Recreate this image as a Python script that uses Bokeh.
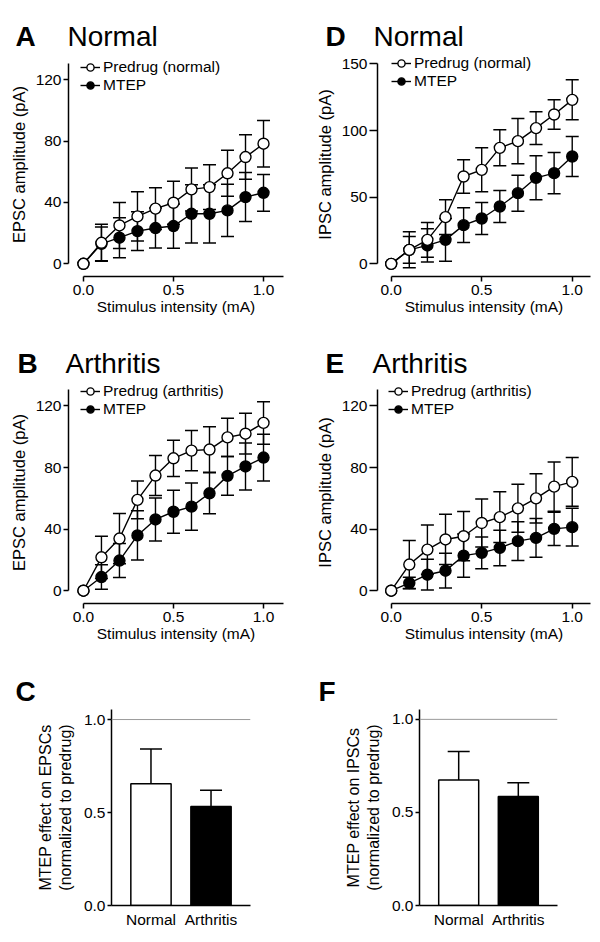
from bokeh.plotting import figure
from bokeh.models import (Range1d, Label, Legend, LegendItem, Span, FixedTicker,
                          PrintfTickFormatter, FactorRange)
from bokeh.layouts import column, row
from bokeh.embed import file_html
from bokeh.resources import INLINE

FONT = "Liberation Sans"

# ---------------- data ----------------
stimulus = [0.0, 0.1, 0.2, 0.3, 0.4, 0.5, 0.6, 0.7, 0.8, 0.9, 1.0]

# A: EPSC, normal
epsc_normal_predrug = [0, 13.7, 25.0, 30.9, 36.0, 39.8, 48.5, 50.0, 59.0, 69.6, 78.3]
epsc_normal_predrug_sem = [0, 12.0, 15.0, 16.0, 13.6, 14.0, 14.0, 14.6, 15.0, 14.5, 15.2]
epsc_normal_mtep = [0, 13.0, 17.0, 21.3, 23.3, 24.6, 32.6, 32.6, 34.8, 43.5, 46.3]
epsc_normal_mtep_sem = [0, 11.0, 13.0, 12.6, 13.0, 14.4, 19.0, 19.0, 17.0, 16.0, 12.0]

# B: EPSC, arthritis
epsc_arth_predrug = [0, 21.7, 33.9, 59.0, 74.8, 86.0, 91.0, 91.7, 99.6, 102.0, 109.0]
epsc_arth_predrug_sem = [0, 13.7, 16.3, 12.3, 13.0, 11.8, 13.0, 14.8, 12.4, 13.2, 13.8]
epsc_arth_mtep = [0, 8.9, 19.6, 35.9, 46.3, 51.3, 54.6, 63.3, 74.6, 80.7, 86.5]
epsc_arth_mtep_sem = [0, 8.0, 11.0, 16.0, 14.0, 14.0, 15.3, 13.3, 12.6, 15.2, 15.2]

# D: IPSC, normal
ipsc_normal_predrug = [0, 10.5, 18.0, 35.0, 65.5, 70.5, 87.0, 92.0, 101.8, 112.0, 123.0]
ipsc_normal_predrug_sem = [0, 13.5, 13.0, 13.0, 12.5, 16.5, 13.5, 17.0, 12.3, 11.0, 15.0]
ipsc_normal_mtep = [0, 10.5, 13.8, 18.0, 29.0, 34.0, 43.0, 53.0, 64.5, 68.0, 80.5]
ipsc_normal_mtep_sem = [0, 10.0, 12.5, 16.0, 13.0, 12.0, 12.0, 13.5, 16.5, 15.5, 15.0]

# E: IPSC, arthritis
ipsc_arth_predrug = [0, 17.0, 26.7, 33.3, 35.4, 44.0, 47.8, 53.5, 60.0, 67.6, 70.7]
ipsc_arth_predrug_sem = [0, 15.6, 16.0, 16.3, 16.0, 15.6, 16.5, 15.6, 16.0, 16.0, 15.8]
ipsc_arth_mtep = [0, 5.0, 10.4, 13.0, 22.8, 24.6, 27.8, 32.2, 34.3, 40.2, 41.3]
ipsc_arth_mtep_sem = [0, 3.7, 10.0, 11.3, 14.0, 10.3, 11.5, 12.6, 12.6, 10.8, 12.2]

# C / F: normalized MTEP effect
groups = ["Normal", "Arthritis"]
epsc_effect = [0.655, 0.532]
epsc_effect_sem = [0.187, 0.088]
ipsc_effect = [0.674, 0.586]
ipsc_effect_sem = [0.154, 0.074]

x_ticks = [0.0, 0.5, 1.0]

ROW_W = 592


def style_axis(ax, tick_out, size="15.5px"):
    ax.axis_line_width = 1.5
    ax.axis_line_color = "black"
    ax.major_tick_line_width = 1.5
    ax.major_tick_line_color = "black"
    ax.minor_tick_line_color = None
    ax.major_tick_in = 0
    ax.major_tick_out = tick_out
    ax.major_label_text_font = FONT
    ax.major_label_text_font_size = size
    ax.major_label_text_color = "black"
    ax.axis_label_text_font = FONT
    ax.axis_label_text_font_style = "normal"
    ax.axis_label_text_font_size = size
    ax.axis_label_text_color = "black"


def header(h, items):
    """Strip with panel letters (bold) and panel titles."""
    p = figure(width=ROW_W, height=h, x_range=Range1d(0, ROW_W), y_range=Range1d(0, h),
               title=None, output_backend="svg", toolbar_location=None,
               x_axis_location=None, y_axis_location=None, min_border=0)
    p.outline_line_color = None
    p.grid.visible = False
    for text, x, y, bold in items:
        p.add_layout(Label(x=x, y=y, text=text, text_font=FONT,
                           text_font_style="bold" if bold else "normal",
                           text_font_size="28px", text_color="black",
                           text_baseline="top"))
    return p


def line_panel(pre, pre_sem, mtep, mtep_sem, pre_label, ylabel, W, H, fh,
               xr, yr, ybound, yticks, frame_left, frame_w, tick_out, leg_x, leg_y):
    p = figure(width=W, height=H, x_range=Range1d(*xr), y_range=Range1d(*yr),
               title=None, output_backend="svg", toolbar_location=None,
               min_border_left=frame_left, min_border_right=W - frame_left - frame_w,
               min_border_top=0, min_border_bottom=H - fh)
    p.outline_line_color = None
    p.grid.visible = False
    xa, ya = p.xaxis[0], p.yaxis[0]
    style_axis(xa, 5)
    style_axis(ya, tick_out)
    ya.axis_label_text_font_size = "16.5px"
    xa.ticker = FixedTicker(ticks=x_ticks)
    xa.formatter = PrintfTickFormatter(format="%.1f")
    xa.bounds = (0, xr[1])
    xa.major_label_standoff = 3
    xa.axis_label_standoff = 0
    xa.axis_label = "Stimulus intensity (mA)"
    ya.ticker = FixedTicker(ticks=yticks)
    ya.bounds = (0, ybound)
    ya.major_label_standoff = 2
    ya.axis_label_standoff = 5
    ya.axis_label = ylabel

    # error bars (SEM)
    for vals, sem in ((mtep, mtep_sem), (pre, pre_sem)):
        xs = [x for x, s in zip(stimulus, sem) if s > 0]
        lo = [v - s for v, s in zip(vals, sem) if s > 0]
        hi = [v + s for v, s in zip(vals, sem) if s > 0]
        p.segment(xs, lo, xs, hi, line_color="black", line_width=1.4)
        p.scatter(xs + xs, lo + hi, marker="dash", size=13, line_color="black", line_width=1.5)

    lm = p.line(stimulus, mtep, line_color="black", line_width=1.4)
    lp = p.line(stimulus, pre, line_color="black", line_width=1.4)
    sm = p.scatter(stimulus, mtep, marker="circle", size=11, fill_color="black",
                   line_color="black", line_width=1.4)
    sp = p.scatter(stimulus, pre, marker="circle", size=11, fill_color="white",
                   line_color="black", line_width=1.4)

    leg = Legend(items=[LegendItem(label=pre_label, renderers=[lp, sp]),
                        LegendItem(label="MTEP", renderers=[lm, sm])],
                 location=(leg_x, leg_y), orientation="vertical",
                 border_line_color=None, background_fill_alpha=0,
                 label_text_font=FONT, label_text_font_size="15.5px",
                 label_text_color="black",
                 glyph_width=20, glyph_height=18, label_height=18,
                 label_standoff=3, spacing=0, padding=0, margin=0)
    p.add_layout(leg)
    return p


def bar_panel(vals, sem, ylabel, W, H, fh, ytop, frame_left, frame_w):
    p = figure(width=W, height=H,
               x_range=FactorRange(factors=groups, range_padding=0.1575,
                                   range_padding_units="percent"),
               y_range=Range1d(0, ytop),
               title=None, output_backend="svg", toolbar_location=None,
               min_border_left=frame_left, min_border_right=W - frame_left - frame_w,
               min_border_top=0, min_border_bottom=H - fh)
    p.outline_line_color = None
    p.grid.visible = False
    xa, ya = p.xaxis[0], p.yaxis[0]
    style_axis(xa, 0)
    style_axis(ya, 4)
    ya.axis_label_text_font_size = "16px"
    xa.major_label_standoff = 5
    xa.major_tick_line_color = None
    ya.ticker = FixedTicker(ticks=[0.0, 0.5, 1.0])
    ya.formatter = PrintfTickFormatter(format="%.1f")
    ya.major_label_standoff = 2
    ya.axis_label_standoff = 7
    ya.axis_label = ylabel

    p.add_layout(Span(location=1.0, dimension="width", line_color="#9a9a9a", line_width=1))
    hi = [v + s for v, s in zip(vals, sem)]
    p.segment(groups, vals, groups, hi, line_color="black", line_width=1.5)
    p.scatter(groups, hi, marker="dash", size=22, line_color="black", line_width=1.5)
    p.vbar(x=groups, top=vals, bottom=0, width=0.671, fill_color=["white", "black"],
           line_color="black", line_width=1.5)
    return p


h1 = header(52, [("A", 15, 32, True), ("Normal", 67, 32, False),
                 ("D", 325, 32, True), ("Normal", 373, 32, False)])
pA = line_panel(epsc_normal_predrug, epsc_normal_predrug_sem, epsc_normal_mtep,
                epsc_normal_mtep_sem, "Predrug (normal)", "EPSC amplitude (pA)",
                300, 283, 224, (-0.083, 1.111), (-8.3, 137.8), 130.7, [0, 40, 80, 120],
                68, 215, 5, 12, 182)
pD = line_panel(ipsc_normal_predrug, ipsc_normal_predrug_sem, ipsc_normal_mtep,
                ipsc_normal_mtep_sem, "Predrug (normal)", "IPSC amplitude (pA)",
                292, 283, 224, (-0.0757, 1.101), (-9.5, 158.5), 150.2, [0, 50, 100, 150],
                77, 213, 8, 14, 186)

h2 = header(46, [("B", 17, 34, True), ("Arthritis", 65, 34, False),
                 ("E", 325, 34, True), ("Arthritis", 372, 34, False)])
pB = line_panel(epsc_arth_predrug, epsc_arth_predrug_sem, epsc_arth_mtep,
                epsc_arth_mtep_sem, "Predrug (arthritis)", "EPSC amplitude (pA)",
                300, 274, 222, (-0.083, 1.111), (-8.3, 135.9), 130.7, [0, 40, 80, 120],
                68, 215, 5, 12, 185)
pE = line_panel(ipsc_arth_predrug, ipsc_arth_predrug_sem, ipsc_arth_mtep,
                ipsc_arth_mtep_sem, "Predrug (arthritis)", "IPSC amplitude (pA)",
                292, 274, 222, (-0.0757, 1.101), (-8.3, 135.9), 130.7, [0, 40, 80, 120],
                77, 213, 8, 11, 185)

h3 = header(54, [("C", 15, 34, True), ("F", 318, 34, True)])
pC = bar_panel(epsc_effect, epsc_effect_sem,
               "MTEP effect on EPSCs\n(normalized to predrug)", 300, 221, 196, 1.054, 111, 139)
pF = bar_panel(ipsc_effect, ipsc_effect_sem,
               "MTEP effect on IPSCs\n(normalized to predrug)", 292, 221, 198, 1.053, 119, 138)

layout = column(h1, row(pA, pD), h2, row(pB, pE), h3, row(pC, pF))
with open("out.html", "w") as f:
    f.write(file_html(layout, INLINE))
